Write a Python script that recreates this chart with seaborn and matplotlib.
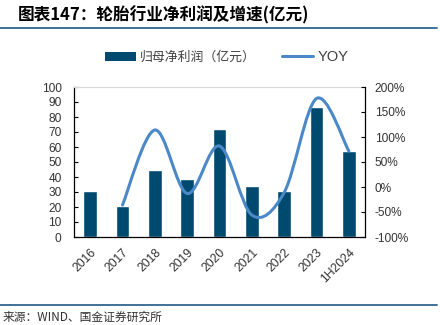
import numpy as np
import pandas as pd
import matplotlib
matplotlib.use("Agg")
import matplotlib.pyplot as plt
from matplotlib.path import Path
from matplotlib.patches import PathPatch, Patch
from matplotlib.lines import Line2D
import seaborn as sns

years = ["2016", "2017", "2018", "2019", "2020", "2021", "2022", "2023", "1H2024"]
profit = [31, 21, 45, 39, 72, 34, 31, 86.5, 57.5]
yoy_years = ["2017", "2018", "2019", "2020", "2021", "2022", "2023", "1H2024"]
yoy = [-36, 114, -13, 82, -56, -11, 177, 72]
left_ticks = list(range(0, 101, 10))
right_ticks = [-100, -50, 0, 50, 100, 150, 200]

sns.set_theme(style="white")
plt.rcParams['font.family'] = ['Liberation Sans', 'Noto Sans CJK SC', 'DejaVu Sans']

BAR = "#004A70"
LINE = "#4A88C8"
TXT = "#333333"

fig = plt.figure(figsize=(4.4, 3.25), dpi=100)
ax = fig.add_axes([74/440, 1-237/325, (365-74)/440, 150/325])

df = pd.DataFrame({"year": years, "profit": profit})
sns.barplot(data=df, x="year", y="profit", order=years, color=BAR, saturation=1,
            width=0.43, ax=ax, zorder=2)
ax.set_xlim(-0.5, len(years)-0.5)
ax.set_ylim(0, 100)
ax.set_yticks(left_ticks)
ax.set_xlabel("")
ax.set_ylabel("")
ax.tick_params(axis='y', direction='in', length=3, width=0.8, color='black',
               labelsize=8.6, labelcolor=TXT, pad=9)
ax.tick_params(axis='x', which='major', length=0, labelsize=8.8, labelcolor=TXT, pad=7)
ax.set_xticks(np.arange(len(years)) + 0.5, minor=True)
ax.tick_params(axis='x', which='minor', direction='in', length=3, width=0.8, color='black')
for lab in ax.get_xticklabels():
    lab.set_rotation(45)
    lab.set_ha('right')
    lab.set_rotation_mode('anchor')
for s in ['left', 'bottom']:
    ax.spines[s].set_color('black')
    ax.spines[s].set_linewidth(0.9)
ax.spines['top'].set_color('#D9D9D9')
ax.spines['top'].set_linewidth(0.9)
ax.spines['right'].set_visible(False)

ax2 = ax.twinx()
ax2.set_ylim(-100, 200)
ax2.set_yticks(right_ticks)
ax2.set_yticklabels([f"{v}%" for v in right_ticks])
ax2.tick_params(axis='y', direction='in', length=3, width=0.8, color='black',
                labelsize=8.6, labelcolor=TXT, pad=7)
for s in ['left', 'top', 'bottom']:
    ax2.spines[s].set_visible(False)
ax2.spines['right'].set_color('black')
ax2.spines['right'].set_linewidth(0.9)
ax2.grid(False)
ax.grid(False)

# smooth line (Catmull-Rom as cubic Bezier, drawn by matplotlib Path)
xs = np.array([years.index(y) for y in yoy_years], dtype=float)
ys = np.array(yoy, dtype=float)
pts = np.column_stack([xs, ys])
verts = [tuple(pts[0])]
codes = [Path.MOVETO]
n = len(pts)
for i in range(n - 1):
    p0 = pts[i-1] if i > 0 else pts[i]
    p1 = pts[i]
    p2 = pts[i+1]
    p3 = pts[i+2] if i + 2 < n else pts[i+1]
    c1 = p1 + (p2 - p0) / 6.0
    c2 = p2 - (p3 - p1) / 6.0
    verts += [tuple(c1), tuple(c2), tuple(p2)]
    codes += [Path.CURVE4, Path.CURVE4, Path.CURVE4]
patch = PathPatch(Path(verts, codes), facecolor='none', edgecolor=LINE, lw=2.2,
                  capstyle='round', joinstyle='round', zorder=3)
ax2.add_patch(patch)
ax2.set_xlim(-0.5, len(years)-0.5)

# legend
handles = [Patch(facecolor=BAR, edgecolor='none'), Line2D([0], [0], color=LINE, lw=2.2)]
labels = ["归母净利润（亿元）", "YOY"]
leg = fig.legend(handles, labels, loc='center', bbox_to_anchor=(0.515, 1-57/325), ncol=2,
                 frameon=False, handlelength=2.4, handleheight=0.8,
                 handletextpad=0.35, columnspacing=2.0,
                 prop={'family': ['Noto Sans CJK SC', 'DejaVu Sans'], 'size': 9.3})
for t in leg.get_texts():
    t.set_color('#404040')
leg.get_texts()[1].set_fontfamily(['Liberation Sans'])
leg.get_texts()[1].set_fontsize(10.5)

# title & decorations
fig.text(18/440, 1-15/325, "图表147：轮胎行业净利润及增速(亿元)", fontsize=12, fontweight='bold',
         fontstyle='italic', color='black', va='center', ha='left',
         family=['Noto Sans CJK SC', 'DejaVu Sans'])
fig.add_artist(Line2D([0, 437/440], [1-28/325, 1-28/325], color='#2F6690', lw=1.3))
fig.add_artist(Line2D([0, 437/440], [1-305/325, 1-305/325], color='#2F6690', lw=1.3))
fig.text(3/440, 1-317/325, "来源：WIND、国金证券研究所", fontsize=8.5, color=TXT, va='center',
         ha='left', family=['Noto Sans CJK SC', 'DejaVu Sans'])

fig.savefig("out.png", dpi=100)
